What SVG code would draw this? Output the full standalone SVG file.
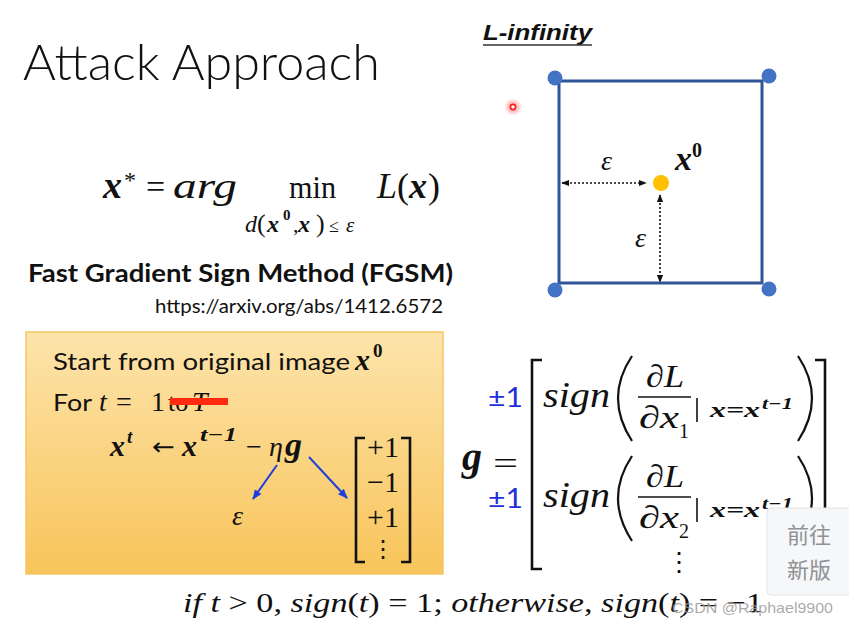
<svg xmlns="http://www.w3.org/2000/svg" width="849" height="625" viewBox="0 0 849 625">
<style>
.sans{font-family:"Lato","Liberation Sans",sans-serif;fill:#111}
.m{font-family:"Liberation Serif","DejaVu Serif",serif;fill:#111}
.mi{font-family:"Liberation Serif","DejaVu Serif",serif;font-style:italic;fill:#111}
.mb{font-family:"Liberation Serif","DejaVu Serif",serif;font-style:italic;font-weight:bold;fill:#111}
.blue{fill:#1f2fd8}
.br{fill:none;stroke:#111;stroke-width:2.6}
.par{fill:none;stroke:#111;stroke-width:2.2}
.dot{fill:none;stroke:#111;stroke-width:1.6;stroke-dasharray:2 2}
.barrow{fill:none;stroke:#1f3ee0;stroke-width:2}
.corner{fill:#4472c4}
</style>
<defs>
<linearGradient id="og" x1="0" y1="0" x2="0" y2="1">
<stop offset="0" stop-color="#fde4ab"/>
<stop offset="1" stop-color="#f8c45a"/>
</linearGradient>
<radialGradient id="glow">
<stop offset="0" stop-color="#ff2020" stop-opacity="0.55"/>
<stop offset="1" stop-color="#ff2020" stop-opacity="0"/>
</radialGradient>
<marker id="ah" viewBox="0 0 10 10" refX="9" refY="5" markerWidth="5" markerHeight="5" orient="auto-start-reverse">
<path d="M0,1 L10,5 L0,9 z" fill="#111"/>
</marker>
<marker id="bh" viewBox="0 0 10 10" refX="9" refY="5" markerWidth="5" markerHeight="5" orient="auto">
<path d="M0,1 L10,5 L0,9 z" fill="#1f3ee0"/>
</marker>
</defs>
<rect width="849" height="625" fill="#fff"/>

<g id="title">
<text x="23" y="80" class="sans" font-size="50" font-weight="300" textLength="357" lengthAdjust="spacingAndGlyphs">Attack Approach</text>
</g>

<g id="linf-title">
<text x="483" y="40" font-family="Liberation Sans,sans-serif" font-weight="bold" font-style="italic" font-size="22" fill="#111" textLength="109" lengthAdjust="spacingAndGlyphs">L-infinity</text>
<line x1="483" y1="45" x2="592" y2="45" stroke="#333" stroke-width="1.6"/>
</g>

<g id="red-pointer">
<circle cx="513" cy="107" r="9" fill="url(#glow)"/>
<circle cx="513" cy="107" r="2.6" fill="#fff" stroke="#ff1a1a" stroke-width="1.6"/>
</g>

<g id="linf-box">
<rect x="559" y="81" width="203" height="202" fill="none" stroke="#2f5597" stroke-width="3"/>
<circle class="corner" cx="555" cy="78" r="7.5"/>
<circle class="corner" cx="769" cy="76" r="7.5"/>
<circle class="corner" cx="555" cy="290" r="7.5"/>
<circle class="corner" cx="769" cy="289" r="7.5"/>
</g>

<g id="x0-point">
<circle cx="661" cy="183" r="8" fill="#ffc000"/>
<text x="675" y="170" class="mb" font-size="34">x</text>
<text x="692" y="157" class="m" font-weight="bold" font-size="20">0</text>
<text x="601" y="170" class="mi" font-size="28">ε</text>
<text x="635" y="247" class="mi" font-size="28">ε</text>
</g>

<g id="objective">
<text x="103" y="198" class="mb" font-size="38">x</text>
<text x="124" y="188" class="m" font-size="24">*</text>
<text x="146" y="198" class="m" font-size="34">=</text>
<text x="173" y="198" class="mi" font-size="36" textLength="64" lengthAdjust="spacingAndGlyphs">arg</text>
<text x="289" y="198" class="m" font-size="31" textLength="47" lengthAdjust="spacingAndGlyphs">min</text>
<text x="245" y="232" class="mi" font-size="24">d</text>
<text x="257" y="232" class="m" font-size="26">(</text>
<text x="267" y="232" class="mb" font-size="24">x</text>
<text x="283" y="220" class="m" font-weight="bold" font-size="15">0</text>
<text x="293" y="232" class="m" font-size="22">,</text>
<text x="298" y="232" class="mb" font-size="24">x</text>
<text x="316" y="232" class="m" font-size="26">)</text>
<text x="329" y="232" class="m" font-size="18">≤</text>
<text x="346" y="232" class="mi" font-size="21">ε</text>
<text x="377" y="198" class="mi" font-size="36">L</text>
<text x="397" y="198" class="m" font-size="36">(</text>
<text x="409" y="198" class="mb" font-size="36">x</text>
<text x="428" y="198" class="m" font-size="36">)</text>
</g>

<g id="fgsm-title">
<text x="28" y="282" class="sans" font-weight="bold" font-size="24" textLength="425" lengthAdjust="spacingAndGlyphs">Fast Gradient Sign Method (FGSM)</text>
<text x="155" y="313" class="sans" font-size="18.5" textLength="288" lengthAdjust="spacingAndGlyphs">https://arxiv.org/abs/1412.6572</text>
</g>

<g id="algorithm">
<rect x="26" y="332" width="417" height="242" fill="url(#og)" stroke="#f3c766" stroke-width="1.5"/>
<text x="53" y="370" class="sans" font-size="23" textLength="297" lengthAdjust="spacingAndGlyphs">Start from original image</text>
<text x="355" y="370" class="mb" font-size="30">x</text>
<text x="373" y="357" class="m" font-weight="bold" font-size="19">0</text>
<text x="53" y="411" class="sans" font-size="23" textLength="39" lengthAdjust="spacingAndGlyphs">For</text>
<text x="99" y="411" class="mi" font-size="28">t</text>
<text x="116" y="411" class="m" font-size="28">=</text>
<text x="151" y="411" class="m" font-size="28">1</text>
<text x="168" y="411" class="m" font-size="26">to</text>
<text x="192" y="411" class="mi" font-size="28">T</text>
<rect x="170" y="398" width="58" height="7" fill="#ff2a10"/>
<text x="110" y="456" class="mb" font-size="30">x</text>
<text x="127" y="443" class="mb" font-size="19">t</text>
<text x="152" y="455" font-family="DejaVu Sans,sans-serif" font-size="24" fill="#111" textLength="23" lengthAdjust="spacingAndGlyphs">←</text>
<text x="182" y="456" class="mb" font-size="30">x</text>
<text x="200" y="441" class="mb" font-size="19" textLength="37" lengthAdjust="spacingAndGlyphs">t−1</text>
<text x="246" y="456" class="m" font-size="28">−</text>
<text x="269" y="456" class="mi" font-size="28">η</text>
<text x="285" y="456" class="mb" font-size="34">g</text>
<text x="232" y="525" class="mi" font-size="28">ε</text>
<path class="br" d="M365,438 H356 V562 H365"/>
<path class="br" d="M401,438 H410 V562 H401"/>
<text x="383" y="457" class="m" font-size="30" text-anchor="middle">+1</text>
<text x="383" y="492" class="m" font-size="30" text-anchor="middle">−1</text>
<text x="383" y="527" class="m" font-size="30" text-anchor="middle">+1</text>
<text x="383" y="557" class="m" font-size="24" text-anchor="middle">⋮</text>
</g>

<g id="connectors">
<line class="dot" x1="562" y1="183" x2="646" y2="183" marker-start="url(#ah)" marker-end="url(#ah)"/>
<line class="dot" x1="660" y1="195" x2="660" y2="282" marker-start="url(#ah)" marker-end="url(#ah)"/>
<line class="barrow" x1="277" y1="465" x2="253" y2="499" marker-end="url(#bh)"/>
<line class="barrow" x1="309" y1="457" x2="347" y2="498" marker-end="url(#bh)"/>
</g>

<g id="gradient-sign">
<text x="462" y="470" class="mb" font-size="40">g</text>
<text x="493" y="474" class="m" font-size="32" textLength="25" lengthAdjust="spacingAndGlyphs">=</text>
<text x="488" y="407" class="sans blue" font-size="26" textLength="35" lengthAdjust="spacingAndGlyphs">±1</text>
<text x="488" y="508" class="sans blue" font-size="26" textLength="35" lengthAdjust="spacingAndGlyphs">±1</text>
<path class="br" d="M542,360 H532 V569 H542" stroke-width="3"/>
<path class="br" d="M815,360 H825 V569 H815" stroke-width="3"/>

<text x="543" y="407" class="mi" font-size="36" textLength="67" lengthAdjust="spacingAndGlyphs">sign</text>
<path class="par" d="M632,356 Q604,398 632,441"/>
<text x="646" y="387" class="mi" font-size="32" textLength="38" lengthAdjust="spacingAndGlyphs">∂L</text>
<line x1="638" y1="397" x2="691" y2="397" stroke="#111" stroke-width="1.6"/>
<text x="639" y="428" class="mi" font-size="32" textLength="40" lengthAdjust="spacingAndGlyphs">∂x</text>
<text x="679" y="438" class="m" font-size="20">1</text>
<line x1="697" y1="398" x2="697" y2="422" stroke="#111" stroke-width="1.6"/>
<text x="710" y="417" class="mb" font-size="22" textLength="50" lengthAdjust="spacingAndGlyphs">x=x</text>
<text x="762" y="409" class="mb" font-size="16" textLength="31" lengthAdjust="spacingAndGlyphs">t−1</text>
<path class="par" d="M798,356 Q826,398 798,441"/>

<text x="543" y="507" class="mi" font-size="36" textLength="67" lengthAdjust="spacingAndGlyphs">sign</text>
<path class="par" d="M632,456 Q604,498 632,541"/>
<text x="646" y="487" class="mi" font-size="32" textLength="38" lengthAdjust="spacingAndGlyphs">∂L</text>
<line x1="638" y1="497" x2="691" y2="497" stroke="#111" stroke-width="1.6"/>
<text x="639" y="528" class="mi" font-size="32" textLength="40" lengthAdjust="spacingAndGlyphs">∂x</text>
<text x="679" y="538" class="m" font-size="20">2</text>
<line x1="697" y1="498" x2="697" y2="522" stroke="#111" stroke-width="1.6"/>
<text x="710" y="517" class="mb" font-size="22" textLength="50" lengthAdjust="spacingAndGlyphs">x=x</text>
<text x="762" y="509" class="mb" font-size="16" textLength="31" lengthAdjust="spacingAndGlyphs">t−1</text>
<path class="par" d="M798,456 Q826,498 798,541"/>
<text x="679" y="571" class="m" font-size="26" text-anchor="middle">⋮</text>
</g>

<g id="sign-rule">
<text x="183" y="612" class="m" font-size="28" textLength="580" lengthAdjust="spacingAndGlyphs"><tspan font-style="italic">if t</tspan> &gt; 0, <tspan font-style="italic">sign</tspan>(<tspan font-style="italic">t</tspan>) = 1; <tspan font-style="italic">otherwise</tspan>, <tspan font-style="italic">sign</tspan>(<tspan font-style="italic">t</tspan>) = −1</text>
</g>

<g id="watermark">
<text x="672" y="613" font-family="Liberation Sans,sans-serif" font-size="15" fill="#9a9a9a" fill-opacity="0.85" textLength="161" lengthAdjust="spacingAndGlyphs">CSDN @Raphael9900</text>
</g>

<g id="new-version-button">
<rect x="767" y="508" width="90" height="87" rx="4" fill="#f6f7f9" stroke="#e2e4e8" stroke-width="1"/>
<text x="809" y="543" text-anchor="middle" font-family="Noto Sans CJK SC,sans-serif" font-size="22" fill="#8f9196">前往</text>
<text x="809" y="578" text-anchor="middle" font-family="Noto Sans CJK SC,sans-serif" font-size="22" fill="#8f9196">新版</text>
</g>
</svg>
